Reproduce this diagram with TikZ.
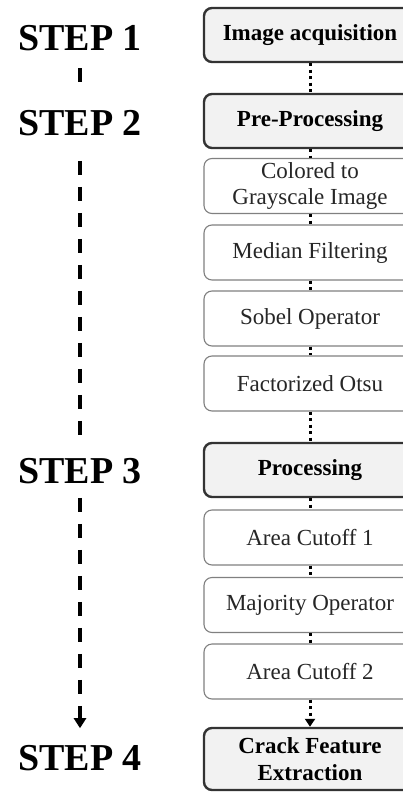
\documentclass[tikz,border=0pt]{standalone}
\usepackage{fontspec}
\setmainfont{Liberation Serif}
\usetikzlibrary{arrows.meta}

\tikzset{
  mainbox/.style={draw=black!80, line width=2.4pt, fill=black!5, rounded corners=8pt,
    minimum width=212pt, minimum height=54pt, align=center, inner sep=0pt,
    font=\fontsize{23}{27}\selectfont\bfseries},
  subbox/.style={draw=black!50, line width=1.1pt, fill=white, rounded corners=8pt,
    minimum width=212pt, minimum height=55pt, align=center, inner sep=0pt,
    text=black!85, font=\fontsize{23}{26}\selectfont},
  steplabel/.style={font=\fontsize{38}{40}\selectfont\bfseries, inner sep=0pt, text depth=0pt},
  dotline/.style={line width=3pt, dash pattern=on 3pt off 3.5pt, draw=black},
  dashline/.style={line width=3.4pt, dash pattern=on 14pt off 12pt},
}

\begin{document}
\begin{tikzpicture}[x=1pt,y=-1pt]
  \useasboundingbox (0,0) rectangle (403,792);
  % left column: steps
  \node[steplabel] (s1) at (80,37.5) {STEP 1};
  \node[steplabel] (s2) at (80,123) {STEP 2};
  \node[steplabel] (s3) at (80,471) {STEP 3};
  \node[steplabel] (s4) at (80,758) {STEP 4};
  \draw[dashline, shorten <=18pt, shorten >=22pt] (s1) -- (s2);
  \draw[dashline, shorten <=25pt, shorten >=20pt] (s2) -- (s3);
  \draw[dashline, shorten <=14pt, shorten >=17pt, -{Triangle[width=12pt,length=10pt]}] (s3) -- (s4);
  % right column: boxes
  \node[mainbox] (acq)   at (310,35)    {Image acquisition};
  \node[mainbox] (pre)   at (310,121)   {Pre-Processing};
  \node[subbox]  (gray)  at (310,186)   {Colored to\\Grayscale Image};
  \node[subbox]  (med)   at (310,252.5) {Median Filtering};
  \node[subbox]  (sob)   at (310,318.5) {Sobel Operator};
  \node[subbox]  (otsu)  at (310,383.5) {Factorized Otsu};
  \node[mainbox] (proc)  at (310,470)   {Processing};
  \node[subbox]  (cut1)  at (310,537.5) {Area Cutoff 1};
  \node[subbox]  (maj)   at (310,605)   {Majority Operator};
  \node[subbox]  (cut2)  at (310,671.5) {Area Cutoff 2};
  \node[mainbox, minimum height=62pt] (crack) at (310,759) {Crack Feature\\Extraction};
  % dotted links
  \draw[dotline] (acq) -- (pre);
  \draw[dotline] (pre) -- (gray);
  \draw[dotline] (gray) -- (med);
  \draw[dotline] (med) -- (sob);
  \draw[dotline] (sob) -- (otsu);
  \draw[dotline] (otsu) -- (proc);
  \draw[dotline] (proc) -- (cut1);
  \draw[dotline] (cut1) -- (maj);
  \draw[dotline] (maj) -- (cut2);
  \draw[dotline, -{Triangle[width=10pt,length=8pt]}] (cut2) -- (crack);
\end{tikzpicture}
\end{document}
